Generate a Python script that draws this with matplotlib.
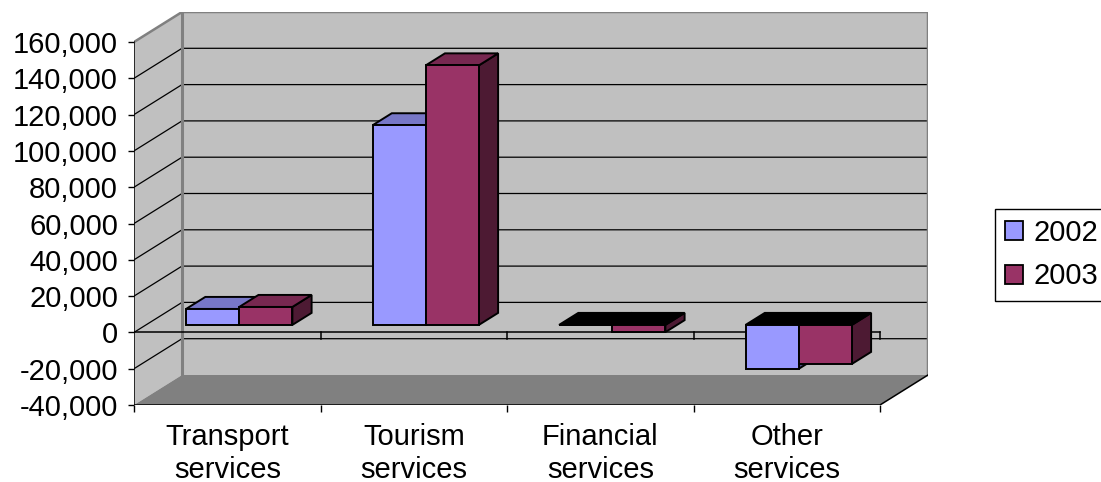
import matplotlib
matplotlib.use("Agg")
import matplotlib.pyplot as plt
from matplotlib.patches import Polygon, Patch
from matplotlib.ticker import FuncFormatter
from matplotlib.colors import to_rgb

plt.rcParams['font.family'] = ['Liberation Sans', 'DejaVu Sans']

# data
categories = ["Transport\nservices", "Tourism\nservices", "Financial\nservices", "Other\nservices"]
years = ["2002", "2003"]
values_2002 = [8800, 110000, -300, -24200]
values_2003 = [9900, 143000, -4000, -21500]
y_ticks = list(range(-40000, 160001, 20000))
colors = ["#9999FF", "#993366"]

W, H = 1101, 482
ymin, ymax = y_ticks[0], y_ticks[-1]

# fake 3d geometry (pixels per unit)
px_cat = 186.5
px_val = 36.3 / 20000
DX = 48 / px_cat      # depth offset in category units
DY = 30 / px_val      # depth offset in value units
x_left = -0.5
x_right = len(categories) - 0.5

fig = plt.figure(figsize=(W / 100, H / 100), dpi=100)
ax_w = (x_right - x_left + DX) * px_cat
ax_h = (ymax - ymin + DY) * px_val
ax = fig.add_axes([134 / W, (H - 405) / H, ax_w / W, ax_h / H])
ax.set_xlim(x_left, x_right + DX)
ax.set_ylim(ymin, ymax + DY)
for s in ax.spines.values():
    s.set_visible(False)
ax.patch.set_visible(False)

wall = "#C0C0C0"
edge_gray = "#808080"

# walls and floor
ax.add_patch(Polygon([(x_left, ymin), (x_left + DX, ymin + DY), (x_left + DX, ymax + DY), (x_left, ymax)],
                     facecolor=wall, edgecolor='none', zorder=1))
ax.add_patch(Polygon([(x_left + DX, ymin + DY), (x_right + DX, ymin + DY), (x_right + DX, ymax + DY), (x_left + DX, ymax + DY)],
                     facecolor=wall, edgecolor='none', zorder=1))
ax.add_patch(Polygon([(x_left, ymin), (x_right, ymin), (x_right + DX, ymin + DY), (x_left + DX, ymin + DY)],
                     facecolor=edge_gray, edgecolor='none', zorder=1))

# gridlines on left and back walls
for v in y_ticks[1:-1]:
    ax.plot([x_left, x_left + DX, x_right + DX], [v, v + DY, v + DY], color='black', lw=0.9, zorder=2)

# wall borders
ax.plot([x_left, x_left + DX, x_right + DX, x_right + DX],
        [ymax, ymax + DY, ymax + DY, ymin + DY], color=edge_gray, lw=1.8, zorder=2)
ax.plot([x_left + DX, x_left + DX], [ymin + DY, ymax + DY], color=edge_gray, lw=2.2, zorder=2)

# floor edges and axes lines
ax.plot([x_left, x_right, x_right + DX], [ymin, ymin, ymin + DY], color='black', lw=1.1, zorder=3)
ax.plot([x_left, x_left], [ymin, ymax], color='black', lw=1.1, zorder=3)
ax.plot([x_left, x_right], [0, 0], color='black', lw=1.1, zorder=3)
tick_len = 7 / px_val
for k in range(1, len(categories) + 1):
    ax.plot([x_left + k, x_left + k], [0, -tick_len], color='black', lw=1.1, zorder=3)


def shade(c, f):
    r, g, b = to_rgb(c)
    return (r * f, g * f, b * f)


# bars
bw = 0.285
d0, d1 = 0.25, 0.65
fx, fy = d0 * DX, d0 * DY
bx, by = d1 * DX, d1 * DY
z = 5
for i in range(len(categories)):
    for s, vals in enumerate([values_2002, values_2003]):
        v = vals[i]
        c = colors[s]
        x0 = i - bw + s * bw
        x1 = x0 + bw
        top = max(v, 0)
        bot = min(v, 0)
        side = [(x1 + fx, bot + fy), (x1 + bx, bot + by), (x1 + bx, top + by), (x1 + fx, top + fy)]
        topf = [(x0 + fx, top + fy), (x1 + fx, top + fy), (x1 + bx, top + by), (x0 + bx, top + by)]
        front = [(x0 + fx, bot + fy), (x1 + fx, bot + fy), (x1 + fx, top + fy), (x0 + fx, top + fy)]
        top_color = 'black' if v < 0 else shade(c, 0.78)
        ax.add_patch(Polygon(side, facecolor=shade(c, 0.5), edgecolor='black', lw=1.4, zorder=z))
        ax.add_patch(Polygon(topf, facecolor=top_color, edgecolor='black', lw=1.4, zorder=z))
        ax.add_patch(Polygon(front, facecolor=c, edgecolor='black', lw=1.4, zorder=z))
        z += 1

# value axis ticks
ax.set_yticks(y_ticks)
ax.yaxis.set_major_formatter(FuncFormatter(lambda v, p: f"{int(v):,}"))
ax.tick_params(axis='y', length=4.5, width=1.0, pad=7, labelsize=21, colors='black')

# category axis: ticks at boundaries, labels at centres
ax.set_xticks([x_left + k for k in range(len(categories) + 1)])
ax.set_xticklabels([])
ax.set_xticks(range(len(categories)), minor=True)
ax.set_xticklabels(categories, minor=True, fontsize=21, linespacing=1.22)
ax.tick_params(axis='x', which='major', length=5, width=1.0)
ax.tick_params(axis='x', which='minor', length=0, pad=13)

handles = [Patch(facecolor=c, edgecolor='black', linewidth=1.3) for c in colors]
fig.legend(handles, years, loc='upper left', bbox_to_anchor=(995 / W, 1 - 209 / H),
           frameon=True, fancybox=False, edgecolor='black', framealpha=1, fontsize=21,
           handlelength=0.62, handleheight=0.62, handletextpad=0.35, borderpad=0.35,
           labelspacing=0.52, borderaxespad=0)

fig.savefig("out.png", dpi=100)
